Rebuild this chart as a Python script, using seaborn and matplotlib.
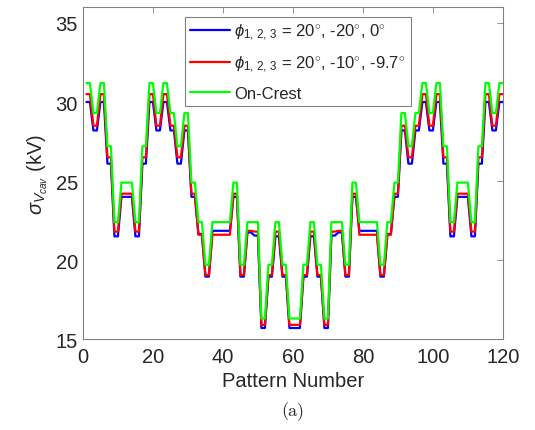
import numpy as np
import pandas as pd
import seaborn as sns
import matplotlib.pyplot as plt

# Pattern numbers 1..120; the patterns come in pairs (2k-1, 2k) sharing one value
pattern = np.arange(1, 121)

# one value per pattern pair (60 pairs)
blue_pairs = [30.0, 28.2, 30.0, 26.1, 21.5, 24.0, 24.0, 21.5, 26.1, 30.0,
              28.2, 30.0, 28.2, 26.1, 28.2, 24.0, 21.65, 18.95, 21.85, 21.85,
              21.85, 24.0, 18.95, 21.75, 21.55, 15.7, 18.95, 21.5, 18.95, 15.7,
              15.7, 18.95, 21.5, 18.95, 15.7, 21.55, 21.75, 18.95, 24.0, 21.85,
              21.85, 21.85, 18.95, 21.65, 24.0, 28.2, 26.1, 28.2, 30.0, 28.2,
              30.0, 26.1, 21.5, 24.0, 24.0, 21.5, 26.1, 30.0, 28.2, 30.0]

red_pairs = [30.5, 28.5, 30.5, 26.5, 21.8, 24.2, 24.2, 21.8, 26.5, 30.5,
             28.5, 30.5, 28.5, 26.5, 28.5, 24.2, 21.6, 19.05, 21.6, 21.6,
             21.6, 24.2, 19.05, 21.85, 21.8, 15.9, 19.05, 21.8, 19.05, 15.9,
             15.9, 19.05, 21.8, 19.05, 15.9, 21.8, 21.85, 19.05, 24.2, 21.6,
             21.6, 21.6, 19.05, 21.6, 24.2, 28.5, 26.5, 28.5, 30.5, 28.5,
             30.5, 26.5, 21.8, 24.2, 24.2, 21.8, 26.5, 30.5, 28.5, 30.5]

green_pairs = [31.2, 29.3, 31.2, 27.2, 22.4, 24.9, 24.9, 22.4, 27.2, 31.2,
               29.3, 31.2, 29.3, 27.2, 29.3, 24.9, 22.4, 19.7, 22.4, 22.4,
               22.4, 24.9, 19.7, 22.4, 22.4, 16.3, 19.7, 22.4, 19.7, 16.3,
               16.3, 19.7, 22.4, 19.7, 16.3, 22.4, 22.4, 19.7, 24.9, 22.4,
               22.4, 22.4, 19.7, 22.4, 24.9, 29.3, 27.2, 29.3, 31.2, 29.3,
               31.2, 27.2, 22.4, 24.9, 24.9, 22.4, 27.2, 31.2, 29.3, 31.2]

labels = [r'$\phi_{1,\,2,\,3}$ = 20$^{\circ}$, -20$^{\circ}$, 0$^{\circ}$',
          r'$\phi_{1,\,2,\,3}$ = 20$^{\circ}$, -10$^{\circ}$, -9.7$^{\circ}$',
          'On-Crest']
colors = ['#0000ff', '#ff0000', '#00ff00']

x_ticks = [0, 20, 40, 60, 80, 100, 120]
y_ticks = [15, 20, 25, 30, 35]

frames = []
for lab, vals in zip(labels, [blue_pairs, red_pairs, green_pairs]):
    frames.append(pd.DataFrame({'Pattern': pattern,
                                'sigma': np.repeat(vals, 2),
                                'case': lab}))
df = pd.concat(frames, ignore_index=True)

sns.set_style('white')
plt.rcParams['font.family'] = ['Liberation Sans', 'DejaVu Sans']
plt.rcParams['mathtext.fontset'] = 'custom'
plt.rcParams['mathtext.rm'] = 'Liberation Sans'
plt.rcParams['mathtext.it'] = 'Liberation Sans:italic'

fig = plt.figure(figsize=(5.35, 4.31), dpi=100)
ax = fig.add_axes([0.155, 0.211, 0.785, 0.770])

sns.lineplot(data=df, x='Pattern', y='sigma', hue='case', hue_order=labels,
             palette=dict(zip(labels, colors)), linewidth=1.6, ax=ax)

ax.set_xlim(0, 120)
ax.set_ylim(15, 36)
ax.set_xticks(x_ticks)
ax.set_yticks(y_ticks)
ax.tick_params(direction='in', length=4, width=0.6, colors='#808080',
               labelcolor='#262626', labelsize=14.5, top=True, right=True)
ax.tick_params(axis='x', pad=6)
for s in ax.spines.values():
    s.set_color('#808080')
    s.set_linewidth(0.8)

ax.set_xlabel('Pattern Number', fontsize=14.5, color='#262626', labelpad=3)
ax.set_ylabel(r'$\sigma_{V_{cav}}$ (kV)', fontsize=14.5, color='#262626')

leg = ax.legend(loc='upper left', bbox_to_anchor=(0.243, 0.97), fontsize=12,
                handlelength=2.4, handletextpad=0.25, borderpad=0.3,
                borderaxespad=0, labelspacing=0.7, fancybox=False, framealpha=1)
leg.get_frame().set_edgecolor('#808080')
leg.get_frame().set_linewidth(0.8)
leg.set_title(None)

fig.text(0.548, 0.045, '(a)', fontsize=13, family='cmr10', ha='center', va='center')

fig.savefig('out.png', dpi=100)
